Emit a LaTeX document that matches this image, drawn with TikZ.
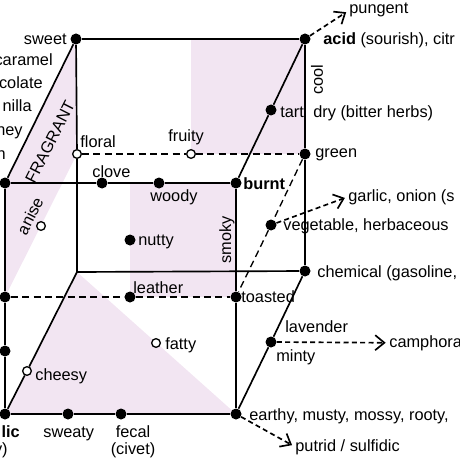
\documentclass[tikz,border=0pt]{standalone}
\usepackage{fontspec}
\setmainfont{Liberation Sans}
\usetikzlibrary{arrows.meta}
\definecolor{FLAVPINK}{RGB}{242,229,242}
\newcommand{\lblfont}{\fontsize{9.8}{10.2}\selectfont}

\begin{document}
\begin{tikzpicture}[
  x=0.6pt, y=-0.6pt,
  %% Flavour points — solid and open
  dot/.style={circle, fill=black, inner sep=0pt, minimum size=6.6pt},
  odot/.style={circle, draw=black, fill=white, line width=0.8pt,
    inner sep=0pt, minimum size=5.2pt},
  %% Cube edges — back / front / hidden
  bedge/.style={black, line width=1pt},
  fedge/.style={black, line width=1.2pt},
  dedge/.style={black, line width=0.8pt, dash pattern=on 4.2pt off 2.6pt},
  darr/.style={-{Straight Barb[length=5.5pt,width=9pt,line width=1pt]},
    line width=1pt, dash pattern=on 3pt off 2pt, shorten >=2pt},
  lbl/.style={font=\lblfont, inner sep=0pt}
]
\useasboundingbox (0,0) rectangle (460,460);
\clip (0,0) rectangle (460,460);

%% ── Shaded regions ───────────────────────────────────────────
\fill[FLAVPINK] (76,39) -- (77,154) -- (5,297) -- (5,183) -- cycle;
\fill[FLAVPINK] (191,39) rectangle (305,154);
\fill[FLAVPINK] (130,183) rectangle (236,297);
\fill[FLAVPINK] (77,272) -- (236,414) -- (5,414) -- cycle;

%% ── Points ───────────────────────────────────────────────────
\node[dot]  (sweet)   at ( 76, 39) {};
\node[dot]  (acid)    at (305, 39) {};
\node[dot]  (tart)    at (271,110) {};
\node[dot]  (green)   at (305,154) {};
\node[odot] (floral)  at ( 77,154) {};
\node[odot] (fruity)  at (191,154) {};
\node[dot]  (ftl)     at (  5,183) {};
\node[dot]  (clove)   at (102,183) {};
\node[dot]  (woody)   at (159,183) {};
\node[dot]  (burnt)   at (236,183) {};
\node[odot] (anise)   at ( 41,226) {};
\node[dot]  (veget)   at (271,225) {};
\node[dot]  (nutty)   at (130,240) {};
\coordinate (bbl)     at ( 77,272);
\node[dot]  (chem)    at (305,271) {};
\node[dot]  (lft)     at (  5,297) {};
\node[dot]  (leather) at (130,297) {};
\node[dot]  (toasted) at (236,297) {};
\node[odot] (fatty)   at (156,343) {};
\node[dot]  (minty)   at (271,342) {};
\node[dot]  (lmid)    at (  5,351) {};
\node[odot] (cheesy)  at ( 27,371) {};
\node[dot]  (garlic)  at (  5,414) {};
\node[dot]  (sweaty)  at ( 68,414) {};
\node[dot]  (fecal)   at (121,414) {};
\node[dot]  (earthy)  at (236,414) {};

%% ── Back face and depth edges ────────────────────────────────
\draw[bedge, line width=1.6pt] (sweet) -- (acid);
\draw[bedge] (acid) -- (green) -- (chem);
\draw[bedge] (sweet) -- (floral);
\draw[bedge] (floral) -- (bbl) -- (chem);
\draw[bedge] (sweet) -- (ftl);
\draw[bedge] (acid) -- (tart) -- (burnt);
\draw[bedge] (chem) -- (minty) -- (earthy);
\draw[bedge] (bbl) -- (cheesy);
\draw[bedge] (cheesy) -- (garlic);

%% ── Front face ───────────────────────────────────────────────
\draw[fedge] (ftl) -- (clove) -- (woody) -- (burnt);
\draw[fedge] (burnt) -- (toasted) -- (earthy);
\draw[fedge] (earthy) -- (fecal) -- (sweaty) -- (garlic);
\draw[fedge] (garlic) -- (lmid) -- (lft) -- (ftl);

%% ── Hidden middle plane ──────────────────────────────────────
\draw[dedge] (floral) -- (fruity);
\draw[dedge] (fruity) -- (green);
\draw[dedge] (green) -- (veget) -- (toasted);
\draw[dedge] (lft) -- (leather) -- (toasted);

%% ── Left labels ──────────────────────────────────────────────
\node[lbl, anchor=base east] (tsweet) at (67,44.5) {sweet};
\node[lbl, anchor=base east] (tcaram) at (53,66) {caramel};
\node[lbl, anchor=base east] (tchoc)  at (43,89) {colate};
\node[lbl, anchor=base east] (tvan)   at (32,112) {nilla};
\node[lbl, anchor=base east] (thon)   at (23,136) {ney};
\node[lbl, anchor=base east] (tn)     at (6,159) {n};
\node[lbl, anchor=base east] (tlic)   at (20,437) {\textbf{lic}};
\node[lbl, anchor=base east] (ty)     at (8,454) {y)};

%% ── Inner labels ─────────────────────────────────────────────
\node[lbl, rotate=63] (tfrag) at (50,142) {FRAGRANT};
\node[lbl, rotate=63] (tanis) at (30,216) {anise};
\node[lbl, rotate=90] (tsmok) at (227,240) {smoky};
\node[lbl, rotate=90] (tcool) at (317,80) {cool};
\node[lbl, anchor=base west] (tflor) at (80,148) {floral};
\node[lbl, anchor=base west] (tfrui) at (168,142) {fruity};
\node[lbl, anchor=base west] (tclov) at (92,177) {clove};
\node[lbl, anchor=base west] (twood) at (150,201) {woody};
\node[lbl, anchor=base west] (tburn) at (243,189) {\textbf{burnt}};
\node[lbl, anchor=base west] (tnutt) at (138,245) {nutty};
\node[lbl, anchor=base west] (tleat) at (133,293) {leather};
\node[lbl, anchor=base west] (tfatt) at (165,349) {fatty};
\node[lbl, anchor=base west] (tchee) at (35,380) {cheesy};
\node[lbl, anchor=base west] (tswea) at (43,437) {sweaty};
\node[lbl, align=center, anchor=north] (tfeca) at (133,425) {fecal\\(civet)};

%% ── Right labels ─────────────────────────────────────────────
\node[lbl, anchor=base west] (tpung) at (349,14) {pungent};
\node[lbl, anchor=base west] (tacid) at (323,45) {\textbf{acid} (sourish), citr};
\node[lbl, anchor=base west] (ttart) at (280,118) {tart};
\node[lbl, anchor=base west] (tdry)  at (313,118) {dry (bitter herbs)};
\node[lbl, anchor=base west] (tgree) at (315,158) {green};
\node[lbl, anchor=base west] (tgarl) at (348,201) {garlic, onion (s};
\node[lbl, anchor=base west] (tvege) at (283,230) {vegetable, herbaceous};
\node[lbl, anchor=base west] (tchem) at (317,277) {chemical (gasoline,};
\node[lbl, anchor=base west] (ttoas) at (241,302) {toasted};
\node[lbl, anchor=base west] (tlave) at (285,332) {lavender};
\node[lbl, anchor=base west] (tmint) at (276,361) {minty};
\node[lbl, anchor=base west] (tcamp) at (389,347) {camphora};
\node[lbl, anchor=base west] (tfirt) at (249,420) {earthy, musty, mossy, rooty,};
\node[lbl, anchor=base west] (tputr) at (295,451) {putrid / sulfidic};

%% ── Outward arrows ───────────────────────────────────────────
\draw[darr] (acid) -- (tpung.west);
\draw[darr] (veget) -- (tgarl.west);
\draw[darr] (minty) -- (tcamp.west);
\draw[darr] (earthy) -- (tputr.west);

\end{tikzpicture}
\end{document}
